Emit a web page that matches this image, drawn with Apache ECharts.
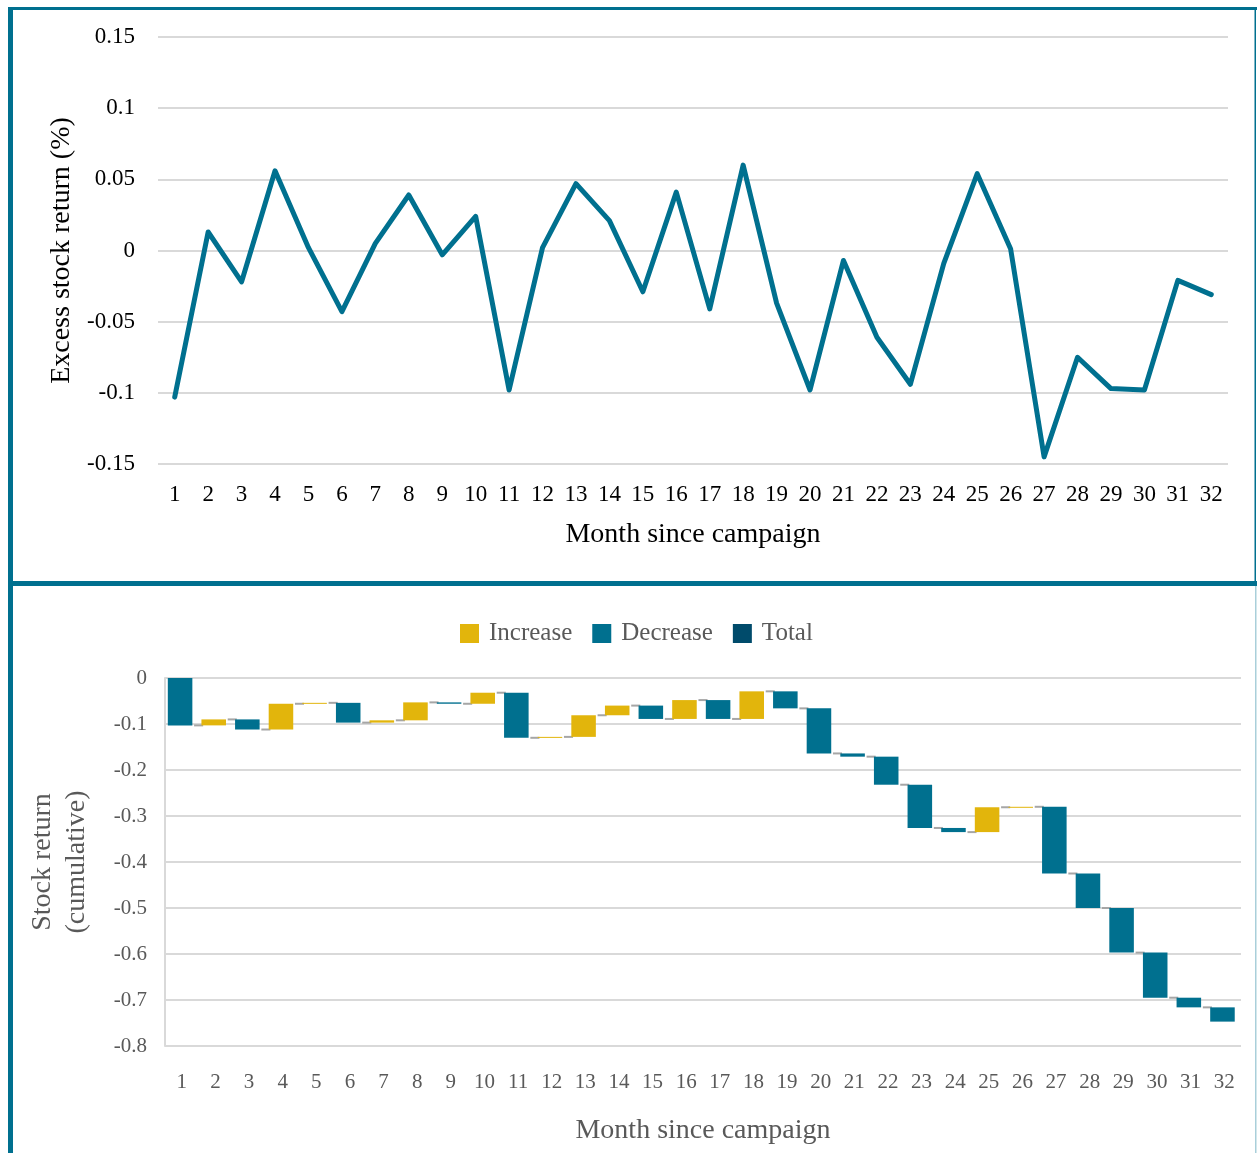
<!DOCTYPE html>
<html>
<head>
<meta charset="utf-8">
<title>Excess stock return after campaign</title>
<script src="https://cdn.jsdelivr.net/npm/echarts@6/dist/echarts.min.js"></script>
<style>
  html, body { margin: 0; padding: 0; background: #fff; }
  #main { width: 1257px; height: 1153px; }
</style>
</head>
<body>
<div id="main"></div>
<script>
// months on the x axis
var months = [];
for (var m = 1; m <= 32; m++) months.push(String(m));

// monthly excess stock return (top panel)
var excessReturn = [-0.103, 0.013, -0.022, 0.056, 0.002, -0.043, 0.005, 0.039, -0.003, 0.024,
  -0.098, 0.002, 0.047, 0.021, -0.029, 0.041, -0.041, 0.060, -0.037, -0.098,
  -0.007, -0.061, -0.094, -0.009, 0.054, 0.001, -0.145, -0.075, -0.097, -0.098,
  -0.021, -0.031];

// tick settings
var topTicks = { min: -0.15, max: 0.15, interval: 0.05 };
var bottomTicks = { min: -0.8, max: 0, interval: 0.1 };

var teal = '#00708f';
var gold = '#e2b50c';
var navy = '#004b6b';
var font = "'Liberation Serif', 'Times New Roman', serif";

// waterfall pieces: cumulative level, invisible base and up / down bars
var cumulative = [];
var baseBar = [], upBar = [], downBar = [];
var prev = 0;
excessReturn.forEach(function (d) {
  var cur = prev + d;
  cumulative.push(cur);
  baseBar.push(Math.max(prev, cur));
  upBar.push(d > 0 ? -d : '-');
  downBar.push(d < 0 ? d : '-');
  prev = cur;
});
var connectors = cumulative.slice(0, -1).map(function (v, i) { return [i, v]; });

var barFrac = 0.73;

var myChart = echarts.init(document.getElementById('main'));

var option = {
  animation: false,
  textStyle: { fontFamily: font },
  graphic: [
    { type: 'rect', shape: { x: 8, y: 7, width: 5, height: 1146 }, style: { fill: teal }, z: 100 },
    { type: 'rect', shape: { x: 8, y: 7, width: 1249, height: 3 }, style: { fill: teal }, z: 100 },
    { type: 'rect', shape: { x: 1254.5, y: 7, width: 1.5, height: 577 }, style: { fill: teal }, z: 100 },
    { type: 'rect', shape: { x: 1255, y: 586, width: 1.5, height: 567 }, style: { fill: '#a9cfda' }, z: 100 },
    { type: 'rect', shape: { x: 8, y: 581, width: 1249, height: 5 }, style: { fill: teal }, z: 100 }
  ],
  legend: {
    data: ['Increase', 'Decrease', 'Total'],
    left: 455,
    top: 616,
    itemWidth: 19,
    itemHeight: 19,
    itemGap: 20,
    icon: 'rect',
    textStyle: { fontSize: 25, color: '#595959', fontFamily: font, padding: [0, 0, 0, 5] }
  },
  grid: [
    { left: 158, right: 29, top: 37, bottom: 689 },
    { left: 165, right: 16, top: 678, bottom: 107 }
  ],
  xAxis: [
    {
      gridIndex: 0,
      type: 'category',
      data: months,
      boundaryGap: true,
      axisLine: { show: false },
      axisTick: { show: false },
      axisLabel: { color: '#000', fontSize: 23, margin: 19, fontFamily: font },
      name: 'Month since campaign',
      nameLocation: 'middle',
      nameGap: 57,
      nameTextStyle: { color: '#000', fontSize: 28, fontFamily: font }
    },
    {
      gridIndex: 1,
      type: 'category',
      data: months,
      boundaryGap: true,
      axisLine: { show: false },
      axisTick: { show: false },
      axisLabel: { color: '#595959', fontSize: 21, margin: 26, fontFamily: font },
      name: 'Month since campaign',
      nameLocation: 'middle',
      nameGap: 71,
      nameTextStyle: { color: '#595959', fontSize: 28, fontFamily: font }
    }
  ],
  yAxis: [
    {
      gridIndex: 0,
      type: 'value',
      min: topTicks.min,
      max: topTicks.max,
      interval: topTicks.interval,
      axisLine: { show: false },
      axisTick: { show: false },
      splitLine: { lineStyle: { color: '#d9d9d9', width: 2 } },
      axisLabel: { color: '#000', fontSize: 23, margin: 23, fontFamily: font },
      name: 'Excess stock return (%)',
      nameLocation: 'middle',
      nameGap: 82,
      nameTextStyle: { color: '#000', fontSize: 28, fontFamily: font }
    },
    {
      gridIndex: 1,
      type: 'value',
      min: bottomTicks.min,
      max: bottomTicks.max,
      interval: bottomTicks.interval,
      axisLine: { show: true, lineStyle: { color: '#d9d9d9', width: 2 } },
      axisTick: { show: false },
      splitLine: { lineStyle: { color: '#d9d9d9', width: 2 } },
      axisLabel: { color: '#595959', fontSize: 21, margin: 18, fontFamily: font },
      name: 'Stock return\n(cumulative)',
      nameLocation: 'middle',
      nameGap: 71,
      nameTextStyle: { color: '#595959', fontSize: 28, lineHeight: 34, fontFamily: font }
    }
  ],
  series: [
    {
      name: 'Excess return',
      type: 'line',
      xAxisIndex: 0,
      yAxisIndex: 0,
      data: excessReturn,
      symbol: 'none',
      lineStyle: { color: teal, width: 5, join: 'round', cap: 'round' },
      itemStyle: { color: teal }
    },
    {
      name: 'base',
      type: 'bar',
      xAxisIndex: 1,
      yAxisIndex: 1,
      stack: 'wf',
      barWidth: (barFrac * 100) + '%',
      data: baseBar,
      itemStyle: { color: 'transparent' },
      silent: true
    },
    {
      name: 'Increase',
      type: 'bar',
      xAxisIndex: 1,
      yAxisIndex: 1,
      stack: 'wf',
      barWidth: (barFrac * 100) + '%',
      barMinHeight: 1,
      data: upBar,
      itemStyle: { color: gold }
    },
    {
      name: 'Decrease',
      type: 'bar',
      xAxisIndex: 1,
      yAxisIndex: 1,
      stack: 'wf',
      barWidth: (barFrac * 100) + '%',
      barMinHeight: 1,
      data: downBar,
      itemStyle: { color: teal }
    },
    {
      name: 'Total',
      type: 'bar',
      xAxisIndex: 1,
      yAxisIndex: 1,
      data: [],
      itemStyle: { color: navy }
    },
    {
      name: 'connector',
      type: 'custom',
      xAxisIndex: 1,
      yAxisIndex: 1,
      data: connectors,
      z: 1,
      silent: true,
      renderItem: function (params, api) {
        var i = api.value(0);
        var level = api.value(1);
        var p0 = api.coord([i, level]);
        var p1 = api.coord([i + 1, level]);
        var half = api.size([1, 0])[0] * barFrac / 2;
        return {
          type: 'line',
          shape: { x1: p0[0] + half, y1: p0[1], x2: p1[0] - half, y2: p1[1] },
          style: { stroke: '#a6a6a6', lineWidth: 2 }
        };
      }
    }
  ]
};

myChart.setOption(option);
</script>
</body>
</html>
